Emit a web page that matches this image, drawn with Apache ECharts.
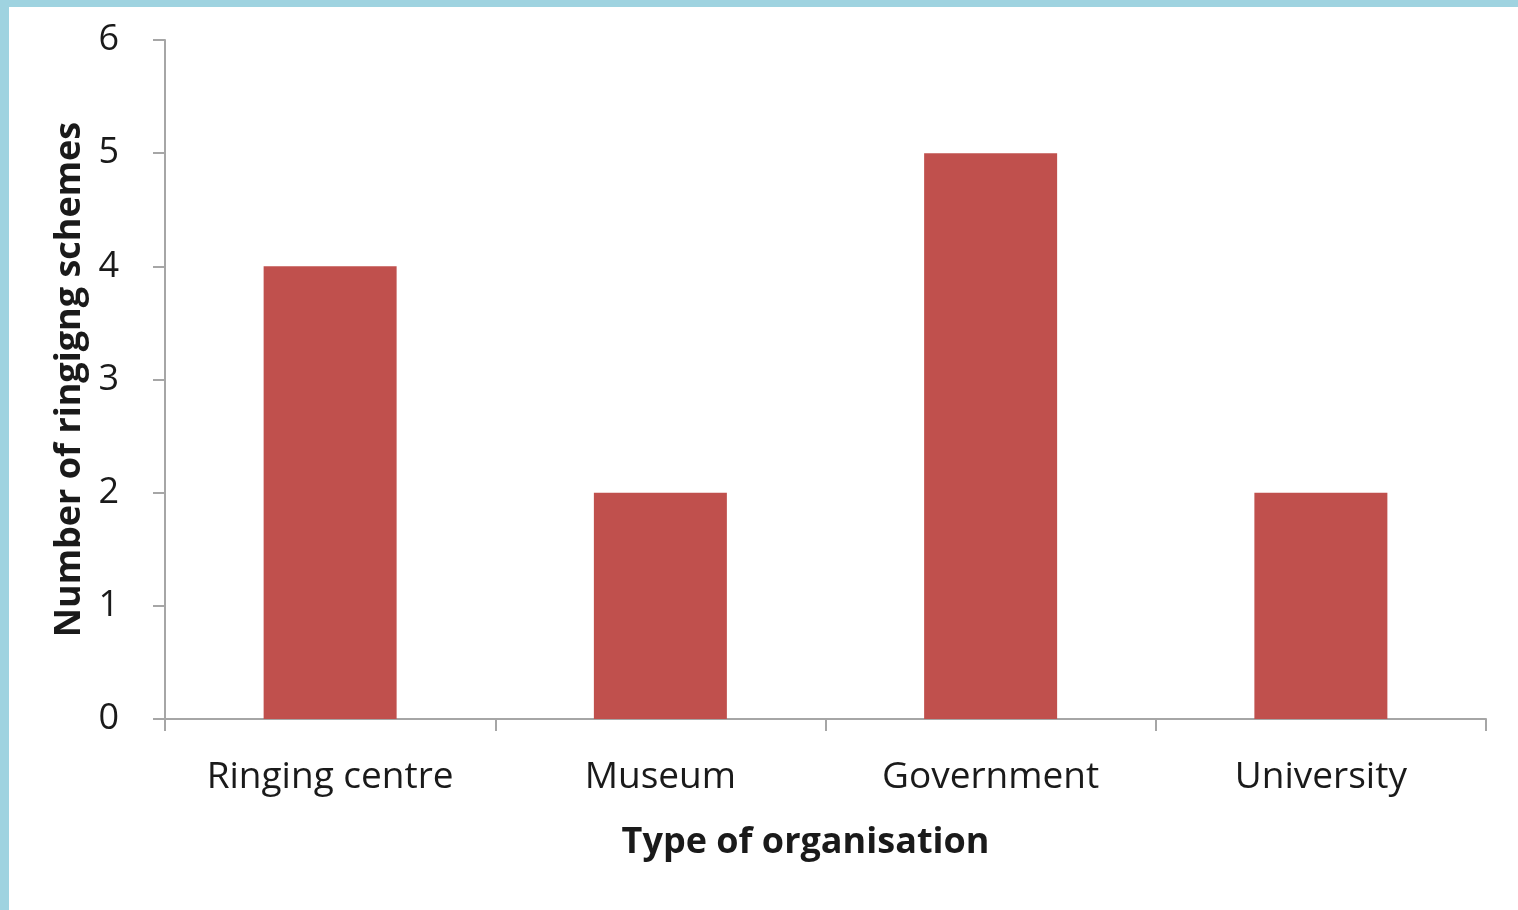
<!DOCTYPE html>
<html>
<head>
<meta charset="utf-8">
<script src="https://cdn.jsdelivr.net/npm/echarts@6/dist/echarts.min.js"></script>
<style>
  html, body { margin: 0; padding: 0; background: #9fd3e0; }
  #chart { position: absolute; left: 9px; top: 7px; width: 1509px; height: 903px; background: #fff; }
</style>
</head>
<body>
<div id="chart"></div>
<script>
const categories = ['Ringing centre', 'Museum', 'Government', 'University']
const schemeCounts = [4, 2, 5, 2]
const yTicks = [0, 1, 2, 3, 4, 5, 6]

const chart = echarts.init(document.getElementById('chart'))
const axisColor = '#a6a6a6'
const font = 'Open Sans'

chart.setOption({
  animation: false,
  grid: {
    left: 156,
    right: 32,
    top: 33,
    bottom: 191
  },
  xAxis: {
    type: 'category',
    data: categories,
    name: 'Type of organisation',
    nameLocation: 'middle',
    nameGap: 106,
    nameTextStyle: {
      fontFamily: font,
      fontWeight: 'bold',
      fontSize: 36,
      color: '#1a1a1a',
      padding: [0, 40, 0, 0]
    },
    axisLine: { lineStyle: { color: axisColor, width: 2 } },
    axisTick: { show: true, length: 12, lineStyle: { color: axisColor, width: 2 } },
    axisLabel: {
      margin: 40,
      fontFamily: font,
      fontSize: 37,
      color: '#1a1a1a'
    }
  },
  yAxis: {
    type: 'value',
    min: yTicks[0],
    max: yTicks[yTicks.length - 1],
    interval: 1,
    name: 'Number of ringigng schemes',
    nameLocation: 'middle',
    nameGap: 77,
    nameTextStyle: {
      fontFamily: font,
      fontWeight: 'bold',
      fontSize: 36,
      color: '#1a1a1a'
    },
    splitLine: { show: false },
    axisLine: { show: true, lineStyle: { color: axisColor, width: 2 } },
    axisTick: { show: true, length: 12, lineStyle: { color: axisColor, width: 2 } },
    axisLabel: {
      margin: 46,
      fontFamily: font,
      fontSize: 36,
      color: '#1a1a1a'
    }
  },
  series: [
    {
      type: 'bar',
      data: schemeCounts,
      barWidth: 133,
      itemStyle: { color: '#c0504d' }
    }
  ]
})
</script>
</body>
</html>
